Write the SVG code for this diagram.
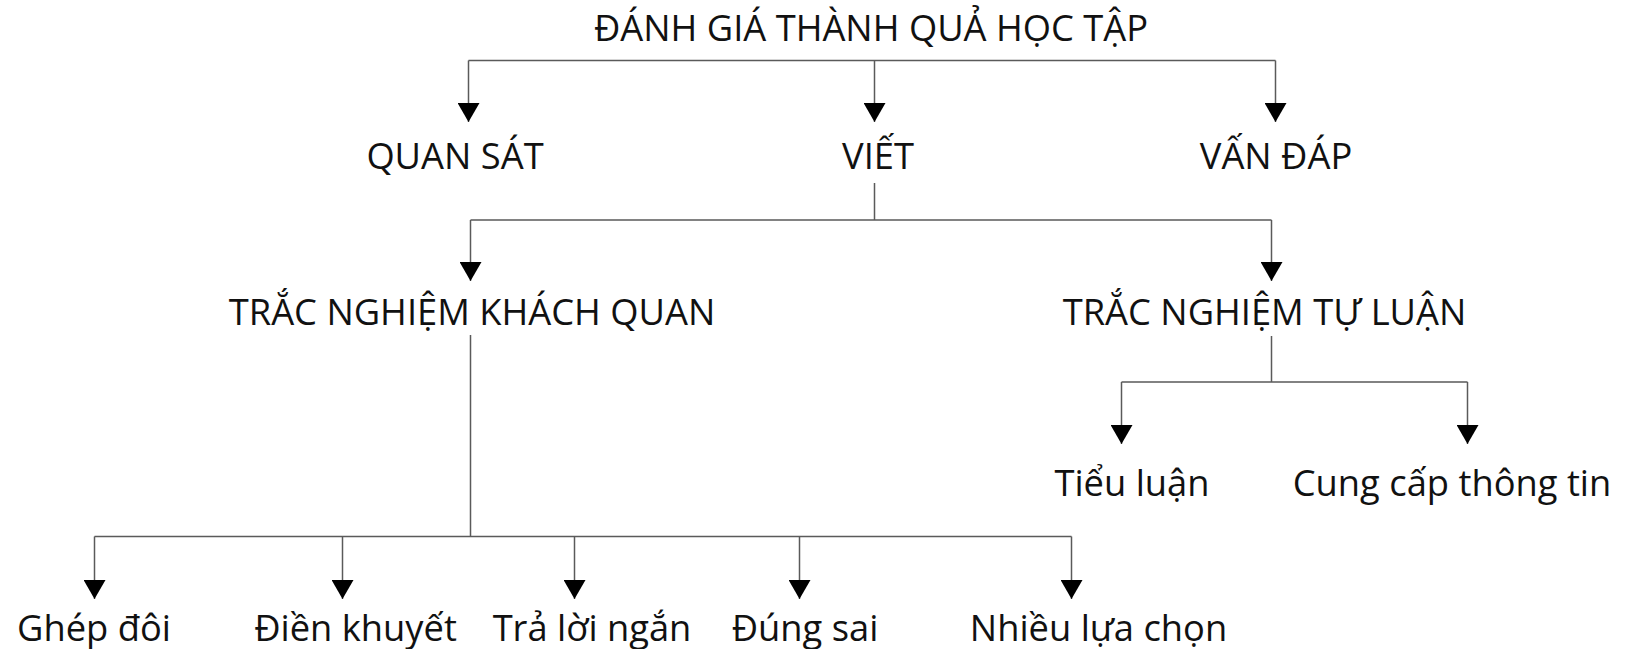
<svg xmlns="http://www.w3.org/2000/svg" width="1640" height="649" viewBox="0 0 1640 649">
<defs>
<style>
.t{font-family:"Open Sans","Noto Sans","DejaVu Sans",sans-serif;font-size:36.3px;fill:#111;text-anchor:middle}
.c{fill:none;stroke:#5a5a5a;stroke-width:1.5}
</style>
<marker id="ah" viewBox="0 -11 19 22" refX="19" refY="0" markerWidth="19" markerHeight="22" markerUnits="userSpaceOnUse" orient="auto">
<path d="M0,-11 L19,0 L0,11 z" fill="#000"/>
</marker>
</defs>
<rect width="1640" height="649" fill="#fff"/>
<g id="connectors">
<path class="c" d="M468.5,60.5 H1275.5"/>
<path class="c" d="M468.5,60.5 V122" marker-end="url(#ah)"/>
<path class="c" d="M874.5,60.5 V122" marker-end="url(#ah)"/>
<path class="c" d="M1275.5,60.5 V122" marker-end="url(#ah)"/>
<path class="c" d="M874.5,183 V220 M470.5,220 H1271.5"/>
<path class="c" d="M470.5,220 V281" marker-end="url(#ah)"/>
<path class="c" d="M1271.5,220 V281" marker-end="url(#ah)"/>
<path class="c" d="M1271.5,336 V382 M1121.5,382 H1467.5"/>
<path class="c" d="M1121.5,382 V444" marker-end="url(#ah)"/>
<path class="c" d="M1467.5,382 V444" marker-end="url(#ah)"/>
<path class="c" d="M470.5,335 V536.5 M94.5,536.5 H1071.5"/>
<path class="c" d="M94.5,536.5 V599" marker-end="url(#ah)"/>
<path class="c" d="M342.5,536.5 V599" marker-end="url(#ah)"/>
<path class="c" d="M574.5,536.5 V599" marker-end="url(#ah)"/>
<path class="c" d="M799.5,536.5 V599" marker-end="url(#ah)"/>
<path class="c" d="M1071.5,536.5 V599" marker-end="url(#ah)"/>
</g>
<g id="n-root"><text class="t" x="871" y="41">ĐÁNH GIÁ THÀNH QUẢ HỌC TẬP</text></g>
<g id="n-quansat"><text class="t" x="455" y="168.5">QUAN SÁT</text></g>
<g id="n-viet"><text class="t" x="878" y="168.5">VIẾT</text></g>
<g id="n-vandap"><text class="t" x="1276" y="168.5">VẤN ĐÁP</text></g>
<g id="n-khachquan"><text class="t" x="472" y="324.5">TRẮC NGHIỆM KHÁCH QUAN</text></g>
<g id="n-tuluan"><text class="t" x="1264.5" y="324.5">TRẮC NGHIỆM TỰ LUẬN</text></g>
<g id="n-tieuluan"><text class="t" x="1132" y="495.5">Tiểu luận</text></g>
<g id="n-cungcap"><text class="t" x="1452" y="495.5">Cung cấp thông tin</text></g>
<g id="n-ghepdoi"><text class="t" x="94" y="641">Ghép đôi</text></g>
<g id="n-dienkhuyet"><text class="t" x="355.5" y="641">Điền khuyết</text></g>
<g id="n-traloingan"><text class="t" x="592" y="641">Trả lời ngắn</text></g>
<g id="n-dungsai"><text class="t" x="805" y="641">Đúng sai</text></g>
<g id="n-nhieulua"><text class="t" x="1098.5" y="641">Nhiều lựa chọn</text></g>
</svg>
